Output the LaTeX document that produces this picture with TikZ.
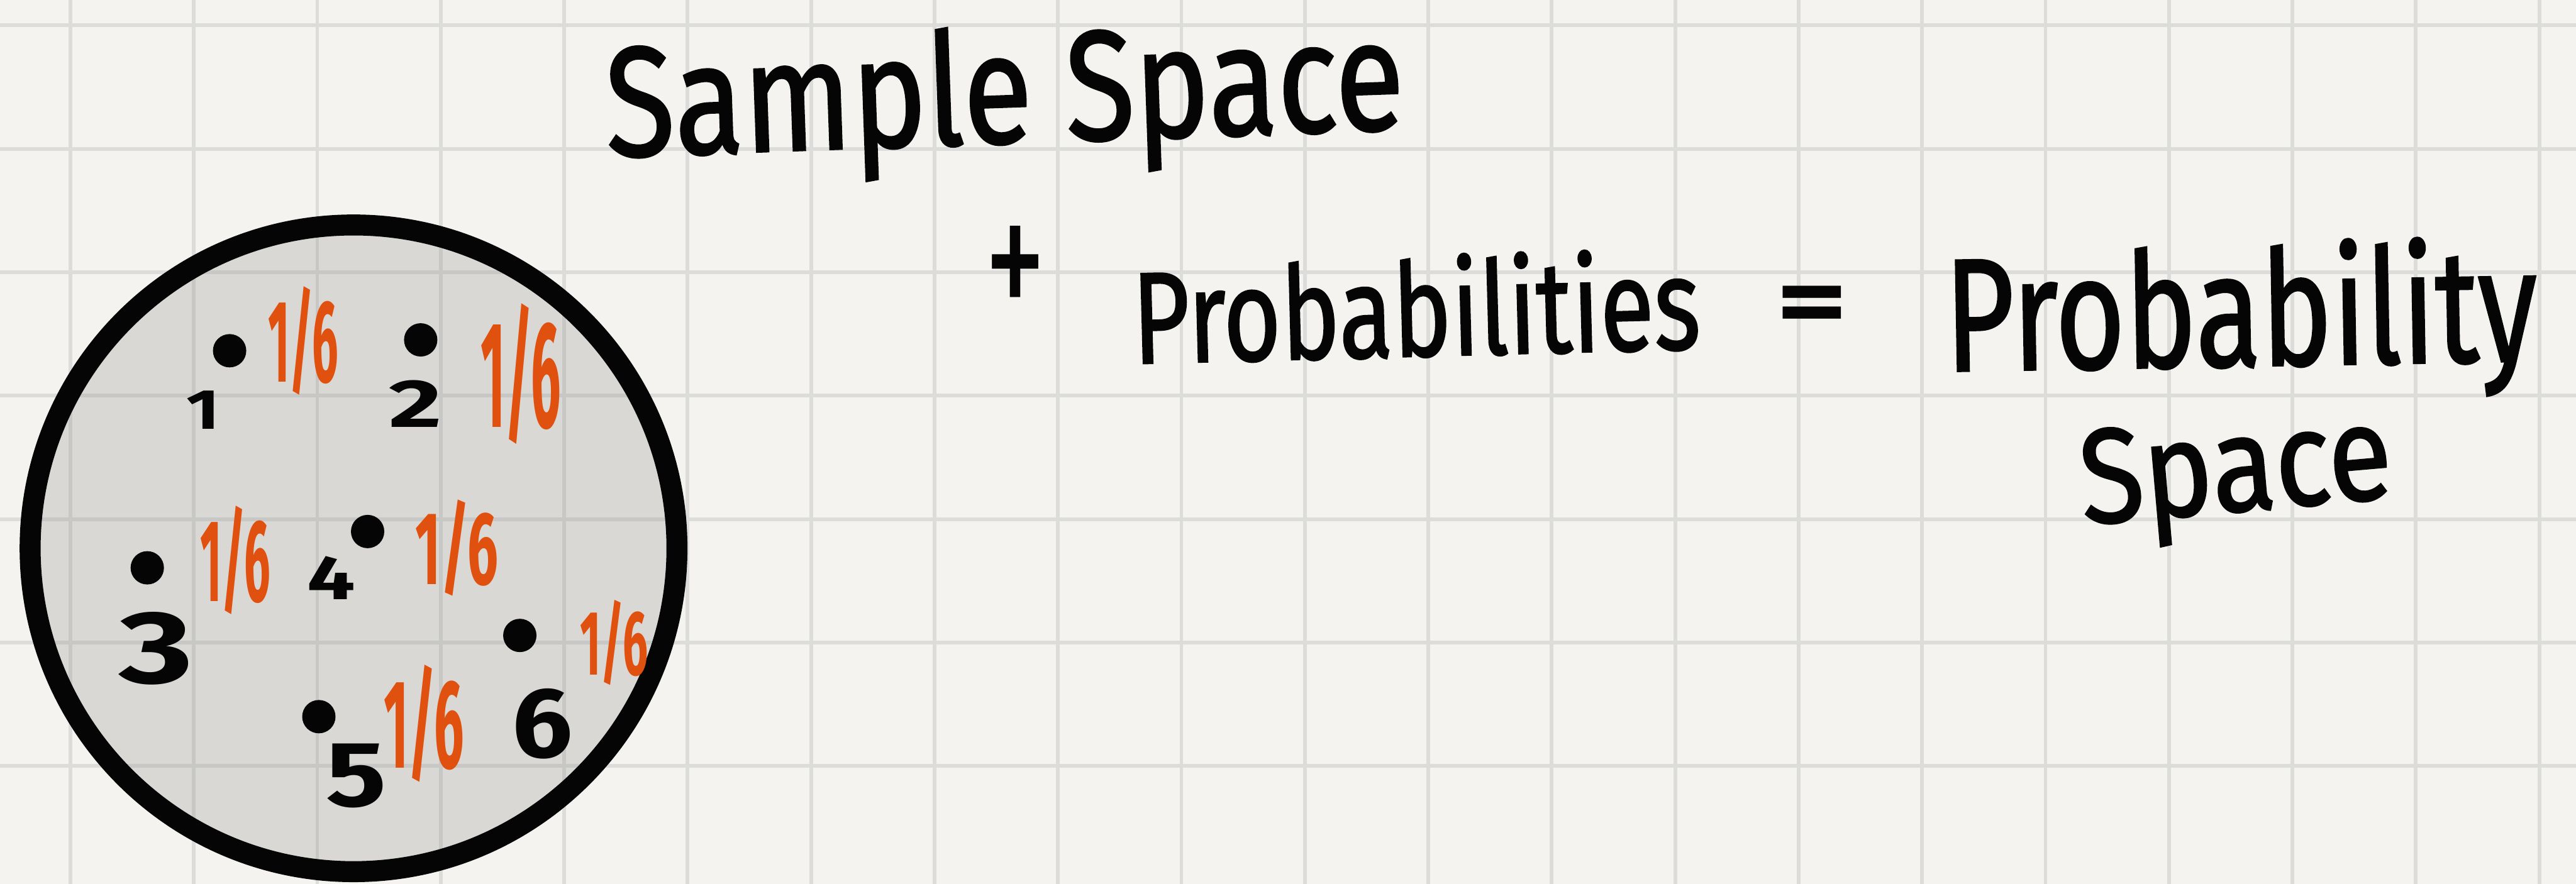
\documentclass[tikz,border=0pt]{standalone}
\usepackage{fontspec}
\setmainfont{Fira Sans}
\newfontfamily\handfont{Fira Sans}[FakeBold=1.4]
\usepackage{graphicx}
\usepackage{tikz}
\usetikzlibrary{positioning,calc}
\definecolor{paper}{HTML}{F4F3F0}
\definecolor{gridline}{HTML}{DCDCDB}
\definecolor{setfill}{RGB}{151,150,147}
\definecolor{probink}{HTML}{E0500E}
\definecolor{ink}{HTML}{050505}
% squeeze a word to a given ink width, keep its height
\newcommand{\squeeze}[2]{\resizebox{#1}{\height}{#2}}
% fit a short mark into a given width and total height
\newcommand{\fitmark}[3]{\resizebox*{#1}{#2}{#3}}

\begin{document}
\begin{tikzpicture}[x=1cm,y=1cm,
  hand/.style={inner sep=0pt, anchor=base west, text=ink},
  symbol/.style={inner sep=0pt, text=ink},
  digit/.style={inner sep=0pt, text=ink, font=\fontsize{20}{20}\selectfont\bfseries},
  prob/.style={inner sep=0pt, text=probink, font=\fontsize{34}{34}\selectfont\bfseries},
  outcome/.style={circle, fill=ink, inner sep=0pt, minimum size=0.27cm}]
\useasboundingbox (0,0) rectangle (20.868,7.162);
\fill[paper] (0,0) rectangle (20.868,7.162);
% grid paper
\foreach \gx in {0,...,20} \draw[gridline, line width=0.03cm] (0.570+\gx,0) -- (0.570+\gx,7.162);
\foreach \gy in {0,...,6} \draw[gridline, line width=0.03cm] (0,0.956+\gy) -- (20.868,0.956+\gy);
% the sample space
\fill[setfill, fill opacity=0.29] (2.864,2.719) circle (2.62);
\draw[ink, line width=0.17cm] (2.864,2.719) circle (2.62);
% outcomes
\node[outcome] (o1) at (1.860,4.320) {};
\node[outcome] (o2) at (3.408,4.408) {};
\node[outcome] (o3) at (1.193,2.561) {};
\node[outcome] (o4) at (2.978,2.855) {};
\node[outcome] (o5) at (2.583,1.355) {};
\node[outcome] (o6) at (4.211,2.013) {};
\node[digit] (n1) at (1.645,3.838) {\fitmark{0.27cm}{0.31cm}{1}};
\node[digit] (n2) at (3.368,3.890) {\fitmark{0.43cm}{0.38cm}{2}};
\node[digit] (n3) at (1.263,1.908) {\fitmark{0.60cm}{0.59cm}{3}};
\node[digit] (n4) at (2.684,2.478) {\fitmark{0.39cm}{0.35cm}{4}};
\node[digit] (n5) at (2.886,0.873) {\fitmark{0.49cm}{0.52cm}{5}};
\node[digit] (n6) at (4.395,1.298) {\fitmark{0.49cm}{0.57cm}{6}};
% probabilities
\node[prob] (p1) at (2.456,4.399) {\fitmark{0.57cm}{0.88cm}{1/6}};
\node[prob] (p2) at (4.219,4.132) {\fitmark{0.65cm}{1.14cm}{1/6}};
\node[prob] (p3) at (1.908,2.623) {\fitmark{0.57cm}{0.88cm}{1/6}};
\node[prob] (p4) at (3.702,2.724) {\fitmark{0.67cm}{0.78cm}{1/6}};
\node[prob] (p5) at (3.434,1.298) {\fitmark{0.65cm}{0.95cm}{1/6}};
\node[prob] (p6) at (4.974,1.956) {\fitmark{0.55cm}{0.69cm}{1/6}};
% the equation
\node[hand, rotate=2, font=\fontsize{36}{36}\handfont] (sample) at (4.912,5.890) {\squeeze{6.47cm}{Sample Space}};
\node[symbol] (plus) at (8.224,4.930) {\fitmark{0.50cm}{0.80cm}{+}};
\node[hand, rotate=1.5, font=\fontsize{30}{30}\handfont] (probs) at (9.175,4.215) {\squeeze{4.60cm}{Probabilities}};
\node[symbol, font=\bfseries] (equals) at (14.680,4.645) {\fitmark{0.58cm}{0.40cm}{=}};
\node[hand, rotate=1, font=\fontsize{37}{37}\handfont] (pspace) at (15.754,4.154) {\squeeze{4.80cm}{Probability}};
\node[hand, rotate=5, font=\fontsize{31}{31}\handfont] (space) at (16.873,2.910) {\squeeze{2.53cm}{Space}};
\end{tikzpicture}
\end{document}
